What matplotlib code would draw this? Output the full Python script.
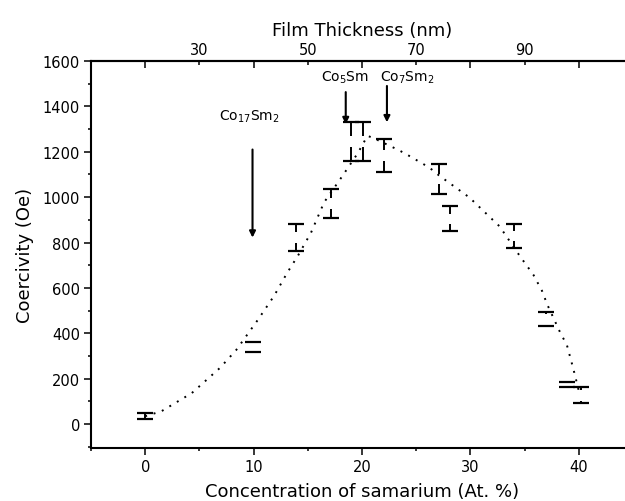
import numpy as np
import matplotlib
matplotlib.use('Agg')
import matplotlib.pyplot as plt
from matplotlib.ticker import MultipleLocator

plt.rcParams['font.family'] = ['DejaVu Sans']

# Sm concentration (At. %) vs coercivity (Oe), with error bars
conc = [0, 9.9, 13.9, 17.1, 19.0, 20.1, 22.0, 27.1, 28.1, 34.0, 37.0, 38.9, 40.2]
coerc = [35, 340, 824, 972, 1244, 1244, 1182, 1080, 904, 829, 463, 175, 128]
coerc_err = [13, 22, 60, 62, 86, 86, 73, 68, 55, 51, 30, 11, 36]

# dotted guide line
trend_x = [0, 1.5, 4.3, 6.9, 8.4, 10.4, 11.9, 13.1, 14.1, 15.3, 16.5, 18.1,
           19.6, 20.5, 21.0, 23.4, 24.1, 26.2, 27.1, 29.9, 32.7, 34.6, 35.8,
           36.6, 37.1, 38.3, 38.9, 39.5, 40.1]
trend_y = [35, 57, 137, 248, 327, 460, 566, 667, 743, 844, 977, 1087,
           1193, 1270, 1262, 1207, 1189, 1131, 1096, 999, 871, 738, 659,
           588, 526, 402, 349, 243, 128]

# phases marked with arrows
phases = ['Co$_{17}$Sm$_2$', 'Co$_5$Sm', 'Co$_7$Sm$_2$']
phase_conc = [9.9, 18.5, 22.3]

fig = plt.figure(figsize=(6.25, 5.02), dpi=100)
ax = fig.add_axes([91/625, 53/502, 542/625, 387/502])

x = np.array(conc)
y = np.array(coerc)
e = np.array(coerc_err)

# caps only, then stems with a gap around the (hidden) symbol
ax.errorbar(x, y, yerr=e, fmt='none', ecolor='k', elinewidth=0,
            capsize=5.5, capthick=1.6, zorder=2)
gap = 24
m = e > gap
ax.vlines(x[m], y[m] + gap, y[m] + e[m], color='k', lw=1.4, zorder=2)
ax.vlines(x[m], y[m] - e[m], y[m] - gap, color='k', lw=1.4, zorder=2)
# first point is drawn as a small cross
ax.vlines(x[:1], y[:1] - e[:1], y[:1] + e[:1], color='k', lw=1.4, zorder=2)

ax.plot(trend_x, trend_y, color='k', lw=1.4, ls=(0, (1, 3.5)), zorder=4)

ax.set_xlim(-5, 45)
ax.set_ylim(-105, 1600)
ax.xaxis.set_major_locator(MultipleLocator(10))
ax.xaxis.set_minor_locator(MultipleLocator(5))
ax.yaxis.set_major_locator(MultipleLocator(200))
ax.yaxis.set_minor_locator(MultipleLocator(100))
ax.tick_params(which='both', direction='out', width=1.1, labelsize=10.5,
               top=False, right=False, pad=3)
ax.tick_params(which='major', length=5)
ax.tick_params(which='minor', length=2.5)
for s in ax.spines.values():
    s.set_linewidth(1.5)

ax.set_xlabel('Concentration of samarium (At. %)', fontsize=13, labelpad=6)
ax.set_ylabel('Coercivity (Oe)', fontsize=13, labelpad=6)

top = ax.secondary_xaxis('top', functions=(lambda c: 2 * c + 20,
                                           lambda t: (t - 20) / 2))
top.set_xticks([20, 40, 60, 80, 100, 120], labels=[''] * 6)
top.set_xticks([30, 50, 70, 90], labels=['30', '50', '70', '90'], minor=True)
top.tick_params(which='both', direction='in', width=1.1, labelsize=10.5, pad=3)
top.tick_params(which='major', length=5)
top.tick_params(which='minor', length=3)
top.spines['top'].set_linewidth(1.5)
top.set_xlabel('Film Thickness (nm)', fontsize=13, labelpad=5)

# arrows and labels
tails = [1210, 1463, 1490]
tips = [822, 1322, 1330]
text_pos = [(9.6, 1357), (18.4, 1529), (24.2, 1529)]
for name, xc, y0, y1, (tx, ty) in zip(phases, phase_conc, tails, tips, text_pos):
    ax.annotate('', xy=(xc, y1), xytext=(xc, y0),
                arrowprops=dict(arrowstyle='-|>', color='k', lw=1.5,
                                mutation_scale=9, shrinkA=0, shrinkB=0))
    ax.text(tx, ty, name, fontsize=10, ha='center', va='center')

fig.savefig('out.png', dpi=100)
